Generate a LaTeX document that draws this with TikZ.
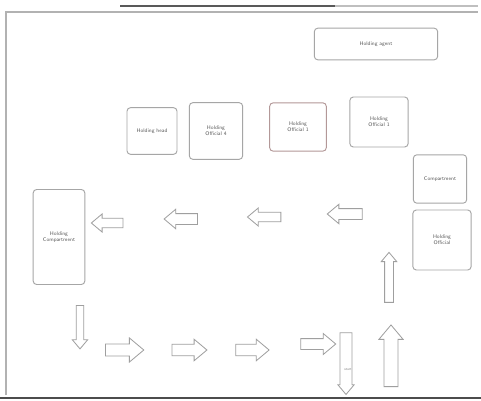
\documentclass[tikz,border=0pt]{standalone}
\usetikzlibrary{shapes.arrows}
\begin{document}
\begin{tikzpicture}[x=0.03cm,y=-0.03cm,
  box/.style={draw=gray!70,line width=0.8pt,rounded corners=3pt,align=center,font=\sffamily\fontsize{4.5}{5.5}\selectfont,text=gray!70!black,inner sep=1pt},
  arr/.style={draw=gray!75,line width=0.7pt,single arrow,single arrow head extend=0.13cm,inner xsep=0pt,inner ysep=0.13cm,single arrow tip angle=80},
  frame/.style={draw=gray!60,line width=1pt}]
\useasboundingbox (0,0) rectangle (481,401);
\fill[white] (0,0) rectangle (481,401);
% frame
\draw[frame] (6,395) -- (6,12) -- (478,12);
\draw[gray!70!black,line width=2pt] (120,6) -- (335,6);
\draw[gray!50,line width=2pt] (335,6) -- (478,6);
\draw[gray!60!black,line width=1.5pt] (0,398) -- (481,398);
% boxes
\node[box,minimum width=3.7cm,minimum height=0.95cm] (agent) at (376,44) {Holding agent};
\node[box,minimum width=1.5cm,minimum height=1.4cm] (head) at (152,131) {Holding head};
\node[box,minimum width=1.6cm,minimum height=1.7cm] (off4) at (216,131) {Holding\\Official 4};
\node[box,minimum width=1.7cm,minimum height=1.45cm,draw=red!15!gray!70] (off1a) at (298,127) {Holding\\Official 1};
\node[box,minimum width=1.75cm,minimum height=1.5cm] (off1b) at (379,122) {Holding\\Official 1};
\node[box,minimum width=1.6cm,minimum height=1.45cm] (comp) at (440,179) {Compartment};
\node[box,minimum width=1.75cm,minimum height=1.8cm] (offr) at (442,240) {Holding\\Official};
\node[box,minimum width=1.55cm,minimum height=2.85cm] (compl) at (59,237) {Holding\\Compartment};
% left-pointing arrows
\node[arr,shape border rotate=180,minimum height=0.95cm] (l1) at (110,223) {};
\node[arr,shape border rotate=180,minimum height=1.0cm,inner ysep=0.15cm] (l2) at (184,219) {};
\node[arr,shape border rotate=180,minimum height=1.0cm] (l3) at (267,217) {};
\node[arr,shape border rotate=180,minimum height=1.05cm,inner ysep=0.15cm] (l4) at (348,214) {};
% up arrow right middle
\node[arr,rotate=90,minimum height=1.5cm,inner ysep=0.12cm,single arrow head extend=0.1cm] (u1) at (389,280) {};
% bottom row
\node[arr,rotate=-90,minimum height=1.3cm,inner ysep=0.1cm,single arrow head extend=0.12cm] (d1) at (80,325) {};
\node[arr,minimum height=1.15cm,inner ysep=0.17cm,single arrow head extend=0.18cm] (r1) at (121,350) {};
\node[arr,minimum height=1.05cm,inner ysep=0.16cm,single arrow head extend=0.15cm] (r2) at (186,350) {};
\node[arr,minimum height=1.0cm,inner ysep=0.16cm,single arrow head extend=0.15cm] (r3) at (249,350) {};
\node[arr,minimum height=1.05cm,inner ysep=0.15cm,single arrow head extend=0.15cm] (r4) at (315,344) {};
\node[arr,rotate=-90,minimum height=1.85cm,inner ysep=0.17cm,single arrow head extend=0.06cm] (d2) at (346,360) {};
\node[font=\sffamily\fontsize{3}{3}\selectfont,text=gray] (st) at (348,370) {start};
\node[arr,rotate=90,minimum height=1.85cm,inner ysep=0.2cm,single arrow head extend=0.15cm] (u2) at (391,360) {};
\end{tikzpicture}
\end{document}
